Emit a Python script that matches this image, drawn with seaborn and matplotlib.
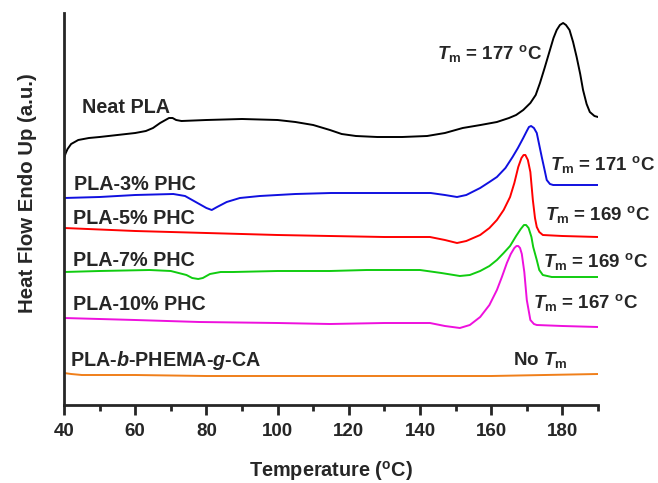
import numpy as np
import pandas as pd
import matplotlib
matplotlib.use("Agg")
import matplotlib.pyplot as plt
import seaborn as sns
from matplotlib.ticker import MultipleLocator

# DSC heating curves, heat flow in arbitrary units (endo up)
neat_T = [40, 40.5, 41, 42, 43, 44, 47, 50, 55, 60, 63, 65, 67, 68.5, 69.5, 70.5, 71.5, 73, 80, 90, 100,
          105, 110, 114.7, 118, 122, 128, 135, 142, 147, 152, 157, 161.6, 165, 167, 169, 171, 172.5,
          173.7, 175, 176.5, 177.5, 178.4, 179.3, 180.2, 181, 182, 183, 184, 185, 185.8, 186.8, 187.7,
          189, 190]
neat_hf = [247, 252, 256, 261, 263, 265, 267, 268, 270, 272, 274, 277, 282, 285, 287, 287, 285, 284, 285,
           286, 285, 283, 280, 275, 271, 269, 268, 268, 269, 272, 277, 280, 283, 287, 290, 295, 302, 310,
           322, 337, 355, 367, 375, 380, 382, 380, 375, 363, 348, 331, 315, 301, 293, 289, 288]

phc3_T = [40, 50, 60, 70.7, 74, 76, 78, 80, 81.5, 83, 85.7, 89.4, 95, 105, 115, 125, 135, 143, 147,
          150.4, 153, 156.9, 159.5, 161.6, 164, 166, 167.5, 169, 170, 170.6, 171.2, 172, 172.8, 173.5,
          174.2, 175, 175.6, 176.5, 177.4, 180, 190]
phc3_hf = [207, 208, 210, 211, 209, 205, 201, 197, 195, 198, 203, 207, 209, 211, 212, 212, 212, 212, 210,
           208, 210, 217, 223, 228, 237, 248, 257, 267, 274, 278, 279, 277, 272, 260,
           248, 235, 225, 221, 220, 220, 220]

phc5_T = [40, 60, 80, 100, 114.7, 130, 142.8, 147, 150.4, 153, 156.9, 159.5, 161.6, 163.5, 165.3,
          166.5, 167.6, 168.5, 169.1, 169.6, 170.3, 171, 171.7, 172.3, 172.8, 173.5, 174.5, 180, 190]
phc5_hf = [177, 174, 172, 170, 169, 168, 168, 165, 162, 164, 170, 177, 185, 195, 208,
           222, 238, 247, 250, 250, 245, 233, 205, 187, 178, 173, 170, 169, 168]

phc7_T = [40, 50, 64, 70, 74.4, 76, 77.7, 79, 81, 84, 87.5, 100, 114.7, 125, 140, 146, 151.2, 154,
          156.9, 159.5, 161.6, 163.5, 165.3, 167, 168.3, 169.2, 169.8, 170.5, 171.3, 171.8, 172.8,
          173.5, 174.5, 177, 190]
phc7_hf = [133, 134, 135, 134, 130, 127, 126, 127, 131, 133, 133, 134, 134, 135, 135, 132, 129, 130,
           134, 139, 145, 152, 159, 169, 176, 180, 180, 177, 168, 158, 145,
           135, 130, 128, 128]

phc10_T = [40, 60, 78, 100, 114.7, 130, 142.8, 147, 151.2, 154, 156.9, 159.5, 161.6, 163, 164.4,
           165.5, 166.5, 167.1, 167.6, 168.1, 168.6, 169.3, 170, 171, 172, 172.8, 180, 190]
phc10_hf = [87, 85, 83, 82, 81, 82, 82, 79, 77, 80, 88, 100, 115, 128, 142,
            151, 157, 159, 159, 157, 151, 133, 105, 85, 81, 80, 79, 78]

ca_T = [40, 42, 45, 60, 80, 100, 120, 140, 160, 175, 190]
ca_hf = [32, 31, 30, 30, 29, 29, 29, 29, 29, 30, 31]

names = ["Neat PLA", "PLA-3% PHC", "PLA-5% PHC", "PLA-7% PHC", "PLA-10% PHC", "PLA-b-PHEMA-g-CA"]
colors = ["#000000", "#1010e0", "#ff0000", "#10cc10", "#ee10dd", "#f07f1a"]

frames = []
for n, t, h in zip(names,
                   [neat_T, phc3_T, phc5_T, phc7_T, phc10_T, ca_T],
                   [neat_hf, phc3_hf, phc5_hf, phc7_hf, phc10_hf, ca_hf]):
    frames.append(pd.DataFrame({"T": t, "hf": h, "sample": n}))
df = pd.concat(frames, ignore_index=True)

sns.set_style("ticks")
plt.rcParams["font.family"] = ["Liberation Sans", "DejaVu Sans"]
plt.rcParams["font.weight"] = "bold"
plt.rcParams["mathtext.fontset"] = "custom"
plt.rcParams["mathtext.rm"] = "Liberation Sans:bold"
plt.rcParams["mathtext.it"] = "Liberation Sans:bold:italic"
plt.rcParams["mathtext.bf"] = "Liberation Sans:bold"

fig = plt.figure(figsize=(6.58, 4.83), dpi=100)
ax = fig.add_axes([64 / 658, 78 / 483, 534 / 658, 392 / 483])

sns.lineplot(data=df, x="T", y="hf", hue="sample", palette=dict(zip(names, colors)),
             sort=False, estimator=None, lw=1.4, legend=False, ax=ax)

ax.set_xlim(40, 190)
ax.set_ylim(0, 392)
ax.set_yticks([])
ax.xaxis.set_major_locator(MultipleLocator(20))
ax.xaxis.set_minor_locator(MultipleLocator(10))
ax.tick_params(axis="x", which="major", length=7, width=2, labelsize=13.5, pad=6)
ax.tick_params(axis="x", which="minor", length=4.5, width=2)
for lab in ax.get_xticklabels():
    lab.set_fontweight("bold")
sns.despine(ax=ax)
ax.spines["left"].set_linewidth(2)
ax.spines["bottom"].set_linewidth(2)

ax.set_xlabel(r"Temperature ($^\mathrm{o}$C)", fontsize=14.3, fontweight="bold")
ax.set_ylabel("Heat Flow Endo Up (a.u.)", fontsize=14.7, fontweight="bold")
ax.xaxis.set_label_coords(0.5, -0.138)
ax.yaxis.set_label_coords(-0.05, 0.54)

lab_kw = dict(fontsize=14.2, fontweight="bold", ha="left", va="center")
ax.text(45.1, 298, "Neat PLA", **lab_kw)
ax.text(42.8, 221, "PLA-3% PHC", **lab_kw)
ax.text(42.5, 187, "PLA-5% PHC", **lab_kw)
ax.text(42.5, 145, "PLA-7% PHC", **lab_kw)
ax.text(42.5, 100, "PLA-10% PHC", **lab_kw)
ax.text(41.7, 45, r"PLA-$\mathit{b}$-PHEMA-$\mathit{g}$-CA", **lab_kw)

tm_kw = dict(fontsize=13.5, fontweight="bold", ha="left", va="baseline")
ax.text(144.8, 346, r"$\mathit{T}_\mathrm{m}$ = 177 $^\mathrm{o}$C", **tm_kw)
ax.text(176.5, 235, r"$\mathit{T}_\mathrm{m}$ = 171 $^\mathrm{o}$C", **tm_kw)
ax.text(175.1, 185, r"$\mathit{T}_\mathrm{m}$ = 169 $^\mathrm{o}$C", **tm_kw)
ax.text(174.6, 138, r"$\mathit{T}_\mathrm{m}$ = 169 $^\mathrm{o}$C", **tm_kw)
ax.text(171.7, 97, r"$\mathit{T}_\mathrm{m}$ = 167 $^\mathrm{o}$C", **tm_kw)
ax.text(166.1, 40, r"No $\mathit{T}_\mathrm{m}$", **tm_kw)

fig.savefig("out.png", dpi=100)
